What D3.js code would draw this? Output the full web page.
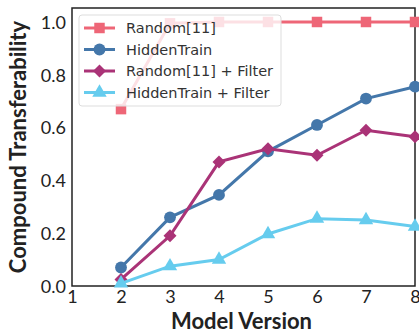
<!DOCTYPE html>
<html>
<head>
<meta charset="utf-8">
<script src="https://cdn.jsdelivr.net/npm/d3@7.9.0/dist/d3.min.js"></script>
<style>
  body { margin: 0; background: #fff; }
  svg { display: block; }
  .tick text { font-family: Lato, sans-serif; font-size: 18px; fill: #222; }
  .axis-label { font-family: Lato, sans-serif; font-weight: bold; font-size: 22px; fill: #222; }
  .legend text { font-family: "DejaVu Sans", sans-serif; font-size: 14.5px; fill: #333; }
</style>
</head>
<body>
<svg width="419" height="332"></svg>
<script>
const versions = [2, 3, 4, 5, 6, 7, 8];
const xTicks = [1, 2, 3, 4, 5, 6, 7, 8];
const yTicks = [0, 0.2, 0.4, 0.6, 0.8, 1.0];

const randomVals = [0.67, 0.995, 1.0, 1.0, 1.0, 1.0, 1.0];
const hiddenVals = [0.07, 0.26, 0.345, 0.51, 0.61, 0.71, 0.755];
const randomFilterVals = [0.025, 0.19, 0.47, 0.52, 0.495, 0.59, 0.565];
const hiddenFilterVals = [0.01, 0.075, 0.10, 0.197, 0.255, 0.25, 0.225];

const seriesNames = ['Random[11]', 'HiddenTrain', 'Random[11] + Filter', 'HiddenTrain + Filter'];
const seriesColors = ['#EE6677', '#4477AA', '#AA3377', '#66CCEE'];
const seriesSymbols = [d3.symbolSquare, d3.symbolCircle, d3.symbolSquare, d3.symbolTriangle];
const symbolSizes = [110, 110, 85, 90];
const symbolRotations = [0, 0, 45, 0];

const series = [randomVals, hiddenVals, randomFilterVals, hiddenFilterVals].map((vals, i) => ({
  name: seriesNames[i],
  color: seriesColors[i],
  symbol: seriesSymbols[i],
  size: symbolSizes[i],
  rot: symbolRotations[i],
  points: vals.map((v, j) => ({ x: versions[j], y: v }))
}));

const margin = { left: 72, right: 4, top: 8, bottom: 46 };
const svg = d3.select('svg');
const width = 419, height = 332;

let x = d3.scaleLinear().domain([1, 8]).range([margin.left, width - margin.right]);
let y = d3.scaleLinear().domain([0, 1.053]).range([height - margin.bottom, margin.top]);

// axes
svg.append('g')
  .attr('transform', `translate(0,${height - margin.bottom})`)
  .call(d3.axisBottom(x).tickValues(xTicks).tickFormat(d3.format('d')).tickSize(0).tickPadding(4))
  .call(g => g.select('.domain').remove());

svg.append('g')
  .attr('transform', `translate(${margin.left},0)`)
  .call(d3.axisLeft(y).tickValues(yTicks).tickFormat(d3.format('.1f')).tickSize(0).tickPadding(6))
  .call(g => g.select('.domain').remove())
  .selectAll('text').attr('dy', '0.35em');

// frame
svg.append('rect')
  .attr('x', margin.left)
  .attr('y', margin.top)
  .attr('width', width - margin.right - margin.left)
  .attr('height', height - margin.bottom - margin.top)
  .attr('fill', 'none')
  .attr('stroke', '#222')
  .attr('stroke-width', 1.5);

let line = d3.line().x(d => x(d.x)).y(d => y(d.y));

series.forEach(s => {
  svg.append('path')
    .attr('d', line(s.points))
    .attr('fill', 'none')
    .attr('stroke', s.color)
    .attr('stroke-width', 3);

  svg.selectAll(null)
    .data(s.points)
    .enter()
    .append('path')
    .attr('d', d3.symbol().type(s.symbol).size(s.size))
    .attr('transform', d => `translate(${x(d.x)},${y(d.y)}) rotate(${s.rot})`)
    .attr('fill', s.color);
});

// legend
let legend = svg.append('g').attr('class', 'legend');
legend.append('rect')
  .attr('x', 79).attr('y', 15)
  .attr('width', 202).attr('height', 91)
  .attr('rx', 3)
  .attr('fill', 'rgba(255,255,255,0.8)')
  .attr('stroke', '#ddd');

series.forEach((s, i) => {
  let ly = 28 + i * 21.5;
  legend.append('line')
    .attr('x1', 84).attr('x2', 115)
    .attr('y1', ly).attr('y2', ly)
    .attr('stroke', s.color).attr('stroke-width', 3);
  legend.append('path')
    .attr('d', d3.symbol().type(s.symbol).size(s.size))
    .attr('transform', `translate(99.5,${ly}) rotate(${s.rot})`)
    .attr('fill', s.color);
  legend.append('text')
    .attr('x', 126).attr('y', ly)
    .attr('dy', '0.35em')
    .text(s.name);
});

// axis labels
svg.append('text')
  .attr('class', 'axis-label')
  .attr('x', (margin.left + width - margin.right) / 2 - 2)
  .attr('y', 329)
  .attr('text-anchor', 'middle')
  .text('Model Version');

svg.append('text')
  .attr('class', 'axis-label')
  .attr('transform', `translate(26,${(margin.top + height - margin.bottom) / 2}) rotate(-90)`)
  .attr('text-anchor', 'middle')
  .text('Compound Transferability');
</script>
</body>
</html>
